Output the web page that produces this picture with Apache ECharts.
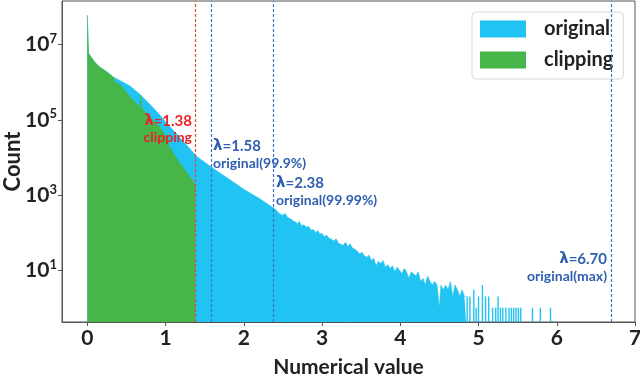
<!DOCTYPE html>
<html>
<head>
<meta charset="utf-8">
<script src="https://cdn.jsdelivr.net/npm/echarts@6/dist/echarts.min.js"></script>
<style>
  html, body { margin: 0; padding: 0; background: #fff; }
  #hist { width: 640px; height: 390px; }
</style>
</head>
<body>
<div id="hist"></div>
<script>
// Histogram outline of the original values (x, count)
var origX = [0, 0.015, 0.015, 0.05, 0.10, 0.16, 0.25, 0.33, 0.42, 0.50, 0.55, 0.67, 0.80, 0.93, 1.01, 1.10, 1.18, 1.30, 1.40, 1.50, 1.58, 1.70, 1.86, 2.00, 2.20, 2.40,
  2.46, 2.50, 2.53, 2.56, 2.60, 2.63, 2.66, 2.69, 2.71, 2.74, 2.77, 2.80, 2.83, 2.86, 2.89, 2.92, 2.95, 2.97, 3.00,
  3.03, 3.06, 3.09, 3.12, 3.15, 3.18, 3.21, 3.24, 3.27, 3.30, 3.33, 3.36, 3.39, 3.42, 3.45, 3.48, 3.51, 3.54, 3.57, 3.60,
  3.63, 3.66, 3.69, 3.72, 3.75, 3.78, 3.81, 3.84, 3.87, 3.90, 3.93, 3.96, 3.99, 4.02, 4.05, 4.08, 4.11, 4.14, 4.17, 4.20,
  4.23, 4.26, 4.29, 4.32, 4.35, 4.38, 4.41, 4.44, 4.47, 4.50, 4.52, 4.55, 4.58, 4.61, 4.64, 4.67, 4.70, 4.73, 4.76, 4.79, 4.82, 4.84];
var origCount = [6.0e7, 6.0e7, 5.9e6, 4.6e6, 3.3e6, 2.5e6, 1.9e6, 1.38e6, 1.1e6, 8.9e5, 7.8e5, 4.8e5, 2.6e5, 1.32e5, 8.3e4, 5.2e4, 3.4e4, 1.8e4, 1.05e4, 7400, 5600, 3800, 2240, 1410, 800, 420,
  310, 290, 320, 250, 230, 205, 190, 170, 200, 150, 160, 138, 145, 115, 120, 100, 112, 91, 95,
  78, 85, 70, 66, 60, 68, 52, 49, 45, 55, 42, 50, 38, 36, 32, 27, 30, 24, 22, 25,
  18, 21, 13, 17, 15, 18, 12, 14, 11, 13, 9, 12, 10, 8, 11, 9, 6, 9, 8, 7,
  9, 5, 6, 4, 7, 5, 4, 5, 4, 1, 4, 3, 4, 3, 5, 2, 4, 3, 2, 3, 2, 2];

// Sparse tail of the original histogram (single bins)
var tailX = [4.855, 4.89, 4.94, 4.97, 5.00, 5.05, 5.09, 5.13, 5.18, 5.22, 5.25, 5.28, 5.31, 5.35, 5.39, 5.42, 5.45, 5.48, 5.51, 5.54, 5.69, 5.79, 5.92];
var tailCount = [2, 2, 3, 1, 2, 4, 2, 2, 1, 1, 2, 1, 1, 1, 1, 1, 1, 1, 1, 1, 1, 1, 1];

// Clipped histogram outline (x, count)
var clipX = [0, 0.015, 0.015, 0.05, 0.10, 0.16, 0.25, 0.33, 0.355, 0.355, 0.42, 0.55, 0.67, 0.685, 0.685, 0.695, 0.695, 0.80, 0.93, 1.01, 1.04, 1.04, 1.18, 1.30, 1.38];
var clipCount = [6.0e7, 6.0e7, 5.9e6, 4.6e6, 3.3e6, 2.5e6, 1.85e6, 1.38e6, 1.25e6, 1.0e6, 8.5e5, 4.0e5, 2.2e5, 2.1e5, 4.5e5, 4.5e5, 2.05e5, 1.17e5, 6.3e4, 3.5e4, 3.0e4, 2.0e4, 7100, 3300, 1900];

// Threshold lines
var lambdaX = [1.38, 1.58, 2.38, 6.70];
var lambdaColor = ['#e8453f', '#3f72c8', '#3f72c8', '#3f72c8'];

// Tick labels
var xTicks = [0, 1, 2, 3, 4, 5, 6, 7];
var yTickExp = [1, 3, 5, 7];

var blue = '#20c3f2';
var green = '#46b649';
var red = '#e8232a';
var navy = '#2f5fae';
var yMin = -0.38, yMax = 8.16;
var fontBold = 'Lato, "Open Sans", sans-serif';

function pairs(xs, cs) {
    return xs.map(function (x, i) { return [x, Math.log10(cs[i])]; });
}

// annotation text next to a threshold line
function note(text, color, size, pos) {
    return {
        type: 'text', z: 100,
        left: pos.left, right: pos.right, top: pos.top,
        style: {
            text: text, fill: color, font: 'bold ' + size + 'px ' + fontBold,
            rich: { l: { fontFamily: 'DejaVu Sans', fontWeight: 'bold', fontSize: size, fill: color } }
        }
    };
}

var chart = echarts.init(document.getElementById('hist'));

chart.setOption({
    animation: false,
    textStyle: { fontFamily: fontBold },

    grid: {
        left: 62, right: 5, top: 1, bottom: 68,
        containLabel: false,
        outerBoundsMode: 'none',
        show: true, borderColor: '#555', borderWidth: 1
    },

    legend: {
        orient: 'vertical',
        left: 472, top: 12,
        padding: [6, 10, 8, 8],
        itemWidth: 46, itemHeight: 17, itemGap: 9,
        backgroundColor: 'rgba(255,255,255,0.85)',
        borderColor: '#d8d8d8', borderWidth: 1, borderRadius: 4,
        textStyle: { fontSize: 20, fontWeight: 'bold', color: '#222', lineHeight: 22, padding: [0, 0, 0, 13] },
        data: [
            { name: 'original', icon: 'rect', itemStyle: { color: blue } },
            { name: 'clipping', icon: 'rect', itemStyle: { color: green } }
        ]
    },

    xAxis: {
        type: 'value',
        min: -0.323, max: 7.0,
        name: 'Numerical value',
        nameLocation: 'middle',
        nameGap: 35,
        nameMoveOverlap: false,
        nameTextStyle: { fontSize: 21, fontWeight: 'bold', color: '#222' },
        axisLine: { onZero: false, lineStyle: { color: '#555' } },
        axisTick: { customValues: xTicks, length: 4, lineStyle: { color: '#555' } },
        axisLabel: { customValues: xTicks, fontSize: 21, fontWeight: 'bold', color: '#222', margin: 6 },
        splitLine: { show: false }
    },

    yAxis: {
        type: 'value',
        min: yMin, max: yMax,
        name: 'Count',
        nameLocation: 'middle',
        nameGap: 38,
        nameMoveOverlap: false,
        nameTextStyle: { fontSize: 22, fontWeight: 'bold', color: '#222' },
        axisLine: { show: true, onZero: false, lineStyle: { color: '#555' } },
        axisTick: { customValues: yTickExp, length: 4, lineStyle: { color: '#555' } },
        axisLabel: {
            customValues: yTickExp,
            margin: 5,
            formatter: function (v) { return '{b|10}{s|' + v + '}'; },
            rich: {
                b: { fontSize: 21, fontWeight: 'bold', color: '#222', fontFamily: fontBold, lineHeight: 24 },
                s: { fontSize: 13, fontWeight: 'bold', color: '#222', fontFamily: fontBold, verticalAlign: 'top', lineHeight: 24, padding: [0, 0, 10, 0] }
            }
        },
        splitLine: { show: false }
    },

    series: [
        {
            name: 'original',
            type: 'line',
            data: pairs(origX, origCount),
            showSymbol: false,
            color: blue,
            lineStyle: { width: 0.6, color: blue },
            areaStyle: { color: blue, opacity: 1, origin: 'start' },
            z: 2
        },
        {
            name: 'original',
            type: 'custom',
            data: pairs(tailX, tailCount),
            renderItem: function (params, api) {
                var x = api.value(0);
                var p0 = api.coord([x - 0.009, yMin]);
                var p1 = api.coord([x + 0.009, api.value(1)]);
                return {
                    type: 'rect',
                    shape: { x: p0[0], y: p1[1], width: Math.max(1.4, p1[0] - p0[0]), height: p0[1] - p1[1] },
                    style: { fill: blue }
                };
            },
            z: 2
        },
        {
            name: 'clipping',
            type: 'line',
            data: pairs(clipX, clipCount),
            showSymbol: false,
            color: green,
            lineStyle: { width: 0.6, color: green },
            areaStyle: { color: green, opacity: 1, origin: 'start' },
            z: 3,
            markLine: {
                silent: true,
                symbol: ['none', 'none'],
                label: { show: false },
                data: lambdaX.map(function (x, i) {
                    return { xAxis: x, lineStyle: { color: lambdaColor[i], type: [3, 2], width: 1.2 } };
                })
            }
        }
    ],

    graphic: [
        note('{l|λ}=1.38', red, 15, { right: 640 - 192, top: 114 }),
        note('clipping', red, 14, { right: 640 - 192, top: 130 }),
        note('{l|λ}=1.58', navy, 15, { left: 213, top: 139 }),
        note('original(99.9%)', navy, 14, { left: 213, top: 156 }),
        note('{l|λ}=2.38', navy, 15, { left: 276, top: 176 }),
        note('original(99.99%)', navy, 14, { left: 276, top: 193 }),
        note('{l|λ}=6.70', navy, 15, { right: 640 - 607, top: 252 }),
        note('original(max)', navy, 14, { right: 640 - 607, top: 269 })
    ]
});
</script>
</body>
</html>
